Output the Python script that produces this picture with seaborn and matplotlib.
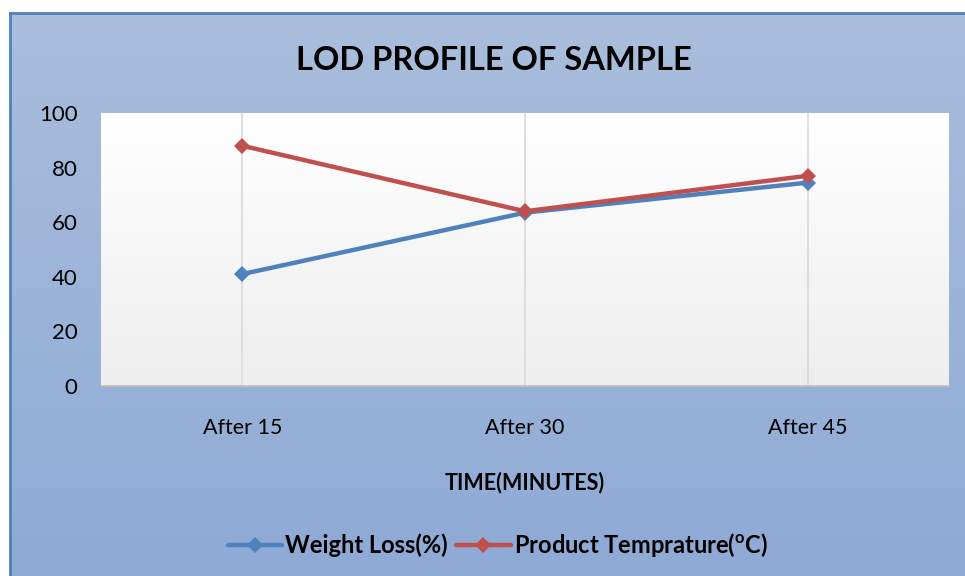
import numpy as np
import pandas as pd
import matplotlib
matplotlib.use("Agg")
import matplotlib.pyplot as plt
import seaborn as sns
from matplotlib.colors import LinearSegmentedColormap

categories = ["After 15", "After 30", "After 45"]
weight_loss = [41, 63.5, 74.5]
product_temp = [88, 64, 77]
series_names = ["Weight Loss(%)", "Product Temprature($^{\\mathrm{o}}$C)"]
y_ticks = [0, 20, 40, 60, 80, 100]

df = pd.DataFrame({
    "time": categories * 2,
    "value": weight_loss + product_temp,
    "series": [series_names[0]] * 3 + [series_names[1]] * 3,
})

sns.set_theme(style="white")
plt.rcParams["font.family"] = ["Lato", "DejaVu Sans"]
plt.rcParams["mathtext.fontset"] = "custom"
plt.rcParams["mathtext.rm"] = "Lato:bold"
plt.rcParams["mathtext.default"] = "rm"
plt.rcParams["text.color"] = "black"
plt.rcParams["xtick.color"] = "black"
plt.rcParams["ytick.color"] = "black"
plt.rcParams["axes.labelcolor"] = "black"

W, H = 965, 576
fig = plt.figure(figsize=(W / 100, H / 100), dpi=100)
fig.patch.set_facecolor("white")

# background chart area with gradient
bg = fig.add_axes([10 / W, 0, 1 - 10 / W, 1 - 13 / H], zorder=-5)
grad = np.linspace(0, 1, 256).reshape(-1, 1)
bg_cmap = LinearSegmentedColormap.from_list("bg", ["#aabedc", "#8eaad5"])
bg.imshow(grad, aspect="auto", cmap=bg_cmap, extent=[0, 1, 0, 1], origin="upper")
bg.set_xlim(0, 1); bg.set_ylim(0, 1)
bg.set_xticks([]); bg.set_yticks([])
for s in ["right", "bottom"]:
    bg.spines[s].set_visible(False)
for s in ["left", "top"]:
    bg.spines[s].set_color("#4f81bd")
    bg.spines[s].set_linewidth(2)

ax = fig.add_axes([101 / W, (H - 386) / H, (949 - 101) / W, (386 - 113) / H])
pa_cmap = LinearSegmentedColormap.from_list("pa", ["#ffffff", "#eeeeee"])
ax.imshow(grad, aspect="auto", cmap=pa_cmap, extent=[-0.5, 2.5, 0, 100],
          origin="upper", zorder=0)

palette = {series_names[0]: "#4f81bd", series_names[1]: "#c0504d"}
sns.lineplot(data=df, x="time", y="value", hue="series", palette=palette,
             style="series", markers={series_names[0]: "D", series_names[1]: "D"},
             dashes=False, linewidth=3.2, markersize=8.5, markeredgewidth=0,
             sort=False, ax=ax, zorder=3)

ax.set_xlim(-0.5, 2.5)
ax.set_ylim(0, 100)
ax.set_yticks(y_ticks)
ax.set_yticklabels([str(t) for t in y_ticks], fontsize=16)
ax.tick_params(axis="x", labelsize=15.5, pad=23, length=0)
ax.tick_params(axis="y", pad=17, length=0)
ax.xaxis.grid(True, color="#d9d9d9", linewidth=1.2, zorder=1)
ax.yaxis.grid(False)
ax.set_axisbelow(True)
for s in ["top", "right", "left"]:
    ax.spines[s].set_visible(False)
ax.spines["bottom"].set_color("#bfbfbf")
ax.spines["bottom"].set_linewidth(1.2)

ax.set_xlabel("TIME(MINUTES)", fontsize=15.5, fontweight="bold", labelpad=24)
ax.set_ylabel("")

leg = ax.legend(loc="center", bbox_to_anchor=(0.516, (H - 545) / H),
                bbox_transform=fig.transFigure, ncol=2, frameon=False,
                prop={"weight": "bold", "size": 17}, handlelength=2.3,
                handletextpad=0.15, columnspacing=0.35)
for line in leg.get_lines():
    line.set_linewidth(3.2)

fig.text(0.512, (H - 61) / H, "LOD PROFILE OF SAMPLE", ha="center", va="center",
         fontsize=23.5, fontweight="bold")

fig.savefig("out.png", dpi=100)
